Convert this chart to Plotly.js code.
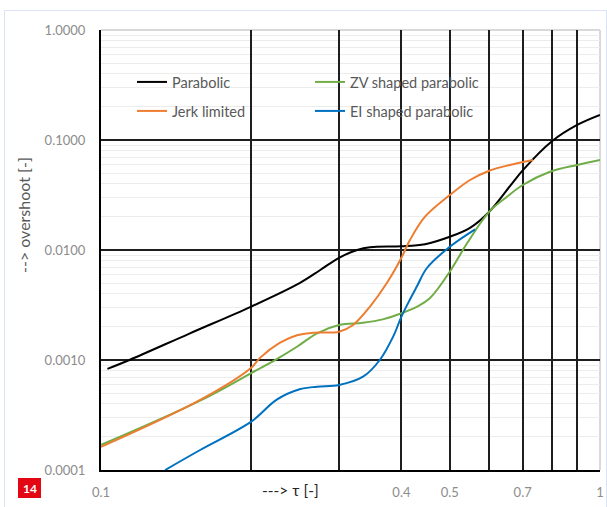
<!DOCTYPE html>
<html>
<head>
<meta charset="utf-8">
<script src="https://cdn.plot.ly/plotly-3.0.1.min.js"></script>
<style>
html,body{margin:0;padding:0;background:#fff;}
#chart{width:607px;height:507px;}
</style>
</head>
<body>
<div id="chart"></div>
<script>
// ---- data ----
const tauParabolic = [0.103, 0.114, 0.15, 0.2, 0.25, 0.275, 0.3, 0.326, 0.346, 0.4, 0.446, 0.5, 0.55, 0.6, 0.66, 0.7, 0.8, 0.9, 1.0];
const ovParabolic  = [0.00083, 0.001, 0.00173, 0.00306, 0.0050, 0.00658, 0.0085, 0.0100, 0.0106, 0.0108, 0.0113, 0.0132, 0.0160, 0.0223, 0.038, 0.053, 0.097, 0.137, 0.169];

const tauJerk = [0.1, 0.158, 0.2, 0.208, 0.228, 0.247, 0.266, 0.3, 0.32, 0.346, 0.374, 0.4, 0.416, 0.446, 0.5, 0.549, 0.6, 0.66, 0.734];
const ovJerk  = [0.000162, 0.000433, 0.00085, 0.00104, 0.00143, 0.00168, 0.00177, 0.00181, 0.00208, 0.00306, 0.00501, 0.0085, 0.0123, 0.0201, 0.0316, 0.0433, 0.0526, 0.0593, 0.0658];

const tauZV = [0.1, 0.158, 0.2, 0.225, 0.247, 0.271, 0.3, 0.335, 0.367, 0.4, 0.43, 0.456, 0.5, 0.5415, 0.6, 0.651, 0.7, 0.794, 0.9, 1.0];
const ovZV  = [0.000169, 0.000427, 0.00076, 0.00102, 0.00132, 0.00175, 0.00208, 0.00218, 0.00234, 0.00266, 0.00306, 0.00364, 0.00635, 0.0115, 0.0223, 0.0305, 0.039, 0.0515, 0.0593, 0.0658];

const tauEI = [0.1344, 0.158, 0.2, 0.225, 0.25, 0.271, 0.3, 0.335, 0.362, 0.385, 0.4, 0.416, 0.43, 0.45, 0.5, 0.562];
const ovEI  = [0.0001, 0.000152, 0.000275, 0.000436, 0.000542, 0.000572, 0.000593, 0.000705, 0.001, 0.00163, 0.00248, 0.00355, 0.0047, 0.00686, 0.0107, 0.0154];

const seriesNames = ["Parabolic", "ZV shaped parabolic", "Jerk limited", "EI shaped parabolic"];

const xTickVals = [0.1, 0.2, 0.3, 0.4, 0.5, 0.6, 0.7, 0.8, 0.9, 1];
const xTickText = ["0.1", "", "", "0.4", "0.5", "", "0.7", "", "", "1"];
const yTickVals = [0.0001, 0.001, 0.01, 0.1, 1];
const yTickText = ["0.0001", "0.0010", "0.0100", "0.1000", "1.0000"];
const yMinorVals = [];
[0.0001, 0.001, 0.01, 0.1].forEach(d => { for (let k = 2; k <= 9; k++) yMinorVals.push(+(d * k).toPrecision(3)); });

const FONT = "Lato, 'Open Sans', sans-serif";
const LW = 2;

const traces = [
  {x: tauParabolic, y: ovParabolic, name: seriesNames[0], legend: "legend",
   line: {color: "#000000", width: LW, shape: "spline", smoothing: 1}},
  {x: tauZV, y: ovZV, name: seriesNames[1], legend: "legend",
   line: {color: "#70AD47", width: LW, shape: "spline", smoothing: 1}},
  {x: tauJerk, y: ovJerk, name: seriesNames[2], legend: "legend2",
   line: {color: "#ED7D31", width: LW, shape: "spline", smoothing: 1}},
  {x: tauEI, y: ovEI, name: seriesNames[3], legend: "legend2",
   line: {color: "#0070C0", width: LW, shape: "spline", smoothing: 1}}
].map(t => Object.assign({type: "scatter", mode: "lines", hoverinfo: "skip"}, t));

// paper-coordinate helpers for decorations (plot area: 101..600 x, 30..470 y)
const px = v => (v - 101) / 499;
const py = v => (470 - v) / 440;

const layout = {
  width: 607, height: 507,
  margin: {l: 101, r: 7, t: 30, b: 37, pad: 0},
  paper_bgcolor: "#ffffff", plot_bgcolor: "#ffffff",
  font: {family: FONT, size: 13, color: "#7f7f7f"},
  showlegend: true,
  xaxis: {
    type: "log", range: [-1, 0], fixedrange: true,
    tickmode: "array", tickvals: xTickVals, ticktext: xTickText,
    showgrid: true, gridcolor: "#1e1e1e", gridwidth: 2,
    showline: true, linecolor: "#000000", linewidth: 2, mirror: false,
    ticks: "", ticklabelstandoff: 9, zeroline: false,
    tickfont: {family: FONT, size: 13, color: "#8c8c8c"}
  },
  yaxis: {
    type: "log", range: [-4, 0], fixedrange: true,
    tickmode: "array", tickvals: yTickVals, ticktext: yTickText,
    showgrid: true, gridcolor: "#1e1e1e", gridwidth: 2,
    minor: {tickmode: "array", tickvals: yMinorVals, showgrid: true, gridcolor: "#ececec", gridwidth: 1, ticks: ""},
    showline: true, linecolor: "#000000", linewidth: 2, mirror: false,
    ticks: "", ticklabelstandoff: 11, zeroline: false,
    tickfont: {family: FONT, size: 13, color: "#8c8c8c"}
  },
  legend: {
    orientation: "h", x: px(132), y: py(66), xanchor: "left", yanchor: "top",
    bgcolor: "rgba(0,0,0,0)", borderwidth: 0, entrywidth: 133, entrywidthmode: "pixels",
    font: {family: FONT, size: 14.5, color: "#595959"}, itemclick: false, itemdoubleclick: false
  },
  legend2: {
    orientation: "h", x: px(132), y: py(95), xanchor: "left", yanchor: "top",
    bgcolor: "rgba(0,0,0,0)", borderwidth: 0, entrywidth: 133, entrywidthmode: "pixels",
    font: {family: FONT, size: 14.5, color: "#595959"}, itemclick: false, itemdoubleclick: false
  },
  shapes: [
    // white legend box covering the grid
    {type: "rect", xref: "paper", yref: "paper", x0: px(130), x1: px(486), y0: py(126), y1: py(67),
     fillcolor: "#ffffff", line: {width: 0}, layer: "between"},
    // grey top and right border of plot area
    {type: "line", xref: "paper", yref: "paper", x0: 0, x1: 1, y0: 1, y1: 1,
     line: {color: "#d9d9d9", width: 2}, layer: "between"},
    {type: "line", xref: "paper", yref: "paper", x0: 1, x1: 1, y0: 0, y1: 1,
     line: {color: "#d9d9d9", width: 2}, layer: "between"},
    // outer chart border
    {type: "rect", xref: "paper", yref: "paper", x0: px(4.5), x1: px(606.5), y0: py(512), y1: py(10.5),
     fillcolor: "rgba(0,0,0,0)", line: {color: "#dae3f3", width: 1}, layer: "below"},
    // red page-number box
    {type: "rect", xref: "paper", yref: "paper", x0: px(18), x1: px(41), y0: py(498), y1: py(478),
     fillcolor: "#e30613", line: {width: 0}, layer: "above"}
  ],
  annotations: [
    {text: "---> τ [-]", xref: "paper", yref: "paper", x: px(290), y: py(490),
     xanchor: "center", yanchor: "middle", showarrow: false,
     font: {family: FONT, size: 15.5, color: "#262626"}},
    {text: "--> overshoot [-]", xref: "paper", yref: "paper", x: px(24), y: py(215),
     xanchor: "center", yanchor: "middle", showarrow: false, textangle: -90,
     font: {family: FONT, size: 16, color: "#595959"}},
    {text: "<b>14</b>", xref: "paper", yref: "paper", x: px(29.5), y: py(488),
     xanchor: "center", yanchor: "middle", showarrow: false,
     font: {family: FONT, size: 12, color: "#ffffff"}}
  ]
};

Plotly.newPlot("chart", traces, layout, {staticPlot: true, displayModeBar: false});
</script>
</body>
</html>
